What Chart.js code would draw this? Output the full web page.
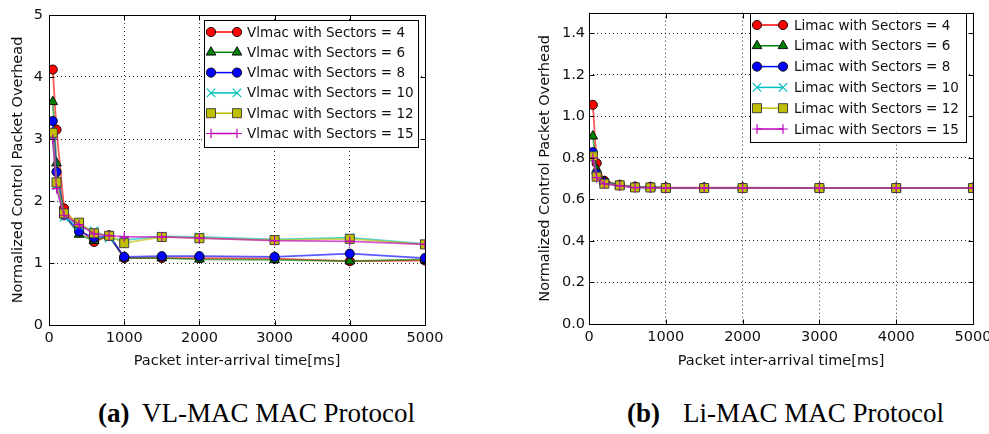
<!DOCTYPE html>
<html><head><meta charset="utf-8">
<script src="https://cdn.jsdelivr.net/npm/chart.js@4/dist/chart.umd.min.js"></script>
<style>
html,body{margin:0;padding:0;background:#fff;width:989px;height:434px;overflow:hidden;position:relative}
#c1{position:absolute;left:0;top:0}
#c2{position:absolute;left:500px;top:0}
.cap{position:absolute;top:400px;font-family:"Liberation Serif",serif;font-size:27px;line-height:27px;color:#000;white-space:nowrap}
</style></head>
<body>
<canvas id="c1" width="470" height="380"></canvas>
<canvas id="c2" width="500" height="380"></canvas>
<div class="cap" style="left:98px"><b>(a)</b></div>
<div class="cap" style="left:142px">VL-MAC MAC Protocol</div>
<div class="cap" style="left:627px"><b>(b)</b></div>
<div class="cap" style="left:683px">Li-MAC MAC Protocol</div>
<script>
// ---- data ----
const xValues = [50, 100, 200, 400, 600, 800, 1000, 1500, 2000, 3000, 4000, 5000];
const sectorCounts = [4, 6, 8, 10, 12, 15];

const vlmac4  = [4.12, 3.15, 1.88, 1.55, 1.34, 1.44, 1.08, 1.08, 1.08, 1.07, 1.03, 1.04];
const vlmac6  = [3.60, 2.61, 1.78, 1.46, 1.36, 1.44, 1.08, 1.08, 1.06, 1.05, 1.03, 1.06];
const vlmac8  = [3.29, 2.47, 1.77, 1.51, 1.41, 1.44, 1.10, 1.11, 1.11, 1.10, 1.15, 1.08];
const vlmac10 = [3.05, 2.25, 1.74, 1.60, 1.52, 1.40, 1.37, 1.43, 1.42, 1.38, 1.41, 1.31];
const vlmac12 = [3.10, 2.30, 1.80, 1.65, 1.48, 1.44, 1.32, 1.42, 1.40, 1.37, 1.39, 1.30];
const vlmac15 = [3.00, 2.20, 1.77, 1.62, 1.47, 1.44, 1.42, 1.42, 1.40, 1.36, 1.35, 1.30];

const limac4  = [1.056, 0.775, 0.690, 0.670, 0.661, 0.660, 0.657, 0.657, 0.657, 0.656, 0.656, 0.656];
const limac6  = [0.905, 0.745, 0.686, 0.668, 0.660, 0.659, 0.656, 0.656, 0.656, 0.655, 0.655, 0.655];
const limac8  = [0.828, 0.725, 0.682, 0.668, 0.659, 0.658, 0.656, 0.656, 0.656, 0.655, 0.655, 0.655];
const limac10 = [0.815, 0.715, 0.679, 0.668, 0.658, 0.658, 0.655, 0.655, 0.655, 0.655, 0.655, 0.655];
const limac12 = [0.808, 0.710, 0.676, 0.668, 0.658, 0.658, 0.655, 0.655, 0.655, 0.655, 0.655, 0.655];
const limac15 = [0.800, 0.705, 0.675, 0.666, 0.657, 0.657, 0.655, 0.655, 0.655, 0.655, 0.655, 0.655];

const vlTicksY = [0, 1, 2, 3, 4, 5];
const liTicksY = [0.0, 0.2, 0.4, 0.6, 0.8, 1.0, 1.2, 1.4];
const xTicks = [0, 1000, 2000, 3000, 4000, 5000];

// ---- styles ----
const solidColors = ['#ff0000', '#008000', '#0000ff', '#00bfbf', '#bfbf00', '#bf00bf'];
const lineColors  = ['rgba(255,0,0,0.65)', 'rgba(0,128,0,0.65)', 'rgba(0,0,255,0.65)', 'rgba(0,191,191,0.65)', 'rgba(191,191,0,0.65)', 'rgba(191,0,191,0.65)'];
const markers = ['circle', 'triangle', 'circle', 'crossRot', 'rect', 'cross'];
const markerRadius = [4.6, 5.6, 4.6, 6, 6.4, 4.8];
const markerEdge = ['#000', '#000', '#000', null, '#333', null];

function buildDatasets(prefix, series) {
  return series.map((vals, i) => ({
    label: prefix + ' with Sectors = ' + sectorCounts[i],
    data: xValues.map((x, j) => ({x: x, y: vals[j]})),
    borderColor: lineColors[i],
    legendColor: solidColors[i],
    borderWidth: 1.8,
    pointStyle: markers[i],
    pointRadius: markerRadius[i],
    pointBackgroundColor: solidColors[i],
    pointBorderColor: markerEdge[i] || solidColors[i],
    pointBorderWidth: markerEdge[i] ? 0.9 : 1.2,
    order: 5 - i,
    tension: 0
  }));
}

function drawMarker(ctx, ds, x, y) {
  ctx.save();
  ctx.fillStyle = ds.pointBackgroundColor;
  ctx.strokeStyle = ds.pointBorderColor;
  ctx.lineWidth = ds.pointBorderWidth;
  Chart.helpers.drawPoint(ctx, {pointStyle: ds.pointStyle, radius: ds.pointRadius, rotation: 0, borderWidth: ds.pointBorderWidth}, x, y);
  ctx.restore();
}

const insideLegend = {
  id: 'insideLegend',
  afterDraw(chart, args, o) {
    const {ctx, chartArea: a, scales} = chart;
    ctx.save();
    // frame
    ctx.strokeStyle = '#000';
    ctx.lineWidth = 1;
    const l = Math.round(a.left) + 0.5, t = Math.round(a.top) + 0.5;
    const r = Math.round(a.right) + 0.5, b = Math.round(a.bottom) + 0.5;
    ctx.strokeRect(l, t, r - l, b - t);
    // inward ticks
    const L = 5;
    ctx.beginPath();
    scales.x.ticks.forEach(tk => {
      const px = Math.round(scales.x.getPixelForValue(tk.value)) + 0.5;
      ctx.moveTo(px, b); ctx.lineTo(px, b - L);
      ctx.moveTo(px, t); ctx.lineTo(px, t + L);
    });
    scales.y.ticks.forEach(tk => {
      const py = Math.round(scales.y.getPixelForValue(tk.value)) + 0.5;
      ctx.moveTo(l, py); ctx.lineTo(l + L, py);
      ctx.moveTo(r, py); ctx.lineTo(r - L, py);
    });
    ctx.stroke();
    // legend box
    ctx.fillStyle = '#fff';
    ctx.fillRect(o.x, o.y, o.w, o.h);
    ctx.strokeStyle = '#000';
    ctx.strokeRect(o.x + 0.5, o.y + 0.5, o.w, o.h);
    ctx.font = '13.5px "DejaVu Sans"';
    ctx.textBaseline = 'middle';
    chart.data.datasets.forEach((ds, i) => {
      const cy = o.y + o.first + i * o.rowH;
      const x0 = o.x + o.lx0, x1 = o.x + o.lx1;
      ctx.strokeStyle = ds.legendColor;
      ctx.lineWidth = 1.5;
      ctx.beginPath(); ctx.moveTo(x0, cy); ctx.lineTo(x1, cy); ctx.stroke();
      drawMarker(ctx, ds, x0, cy);
      drawMarker(ctx, ds, x1, cy);
      ctx.fillStyle = '#111';
      ctx.fillText(ds.label, o.x + o.tx, cy + 1);
    });
    ctx.restore();
  }
};

function makeChart(id, datasets, yMax, yTicks, yDecimals, geom, legend) {
  return new Chart(document.getElementById(id), {
    type: 'line',
    data: {datasets: datasets},
    plugins: [insideLegend],
    options: {
      responsive: false,
      animation: false,
      events: [],
      layout: {padding: {left: 0, top: geom.top, right: geom.right, bottom: 0}},
      plugins: {legend: {display: false}, tooltip: {enabled: false}, insideLegend: legend},
      scales: {
        x: {
          type: 'linear', min: 0, max: 5000,
          afterBuildTicks: s => { s.ticks = xTicks.map(v => ({value: v})); },
          afterFit: s => { s.height = geom.xh; },
          ticks: {color: '#111', font: {family: 'DejaVu Sans', size: 14.5}, padding: 5, maxRotation: 0, callback: v => String(v)},
          grid: {color: 'rgba(0,0,0,0.85)', lineWidth: 1, drawTicks: false},
          border: {display: false, dash: [1, 3]},
          title: {display: true, text: 'Packet inter-arrival time[ms]', color: '#111', font: {family: 'DejaVu Sans', size: 14.5}, padding: {top: 4, bottom: 10}}
        },
        y: {
          type: 'linear', min: 0, max: yMax,
          afterBuildTicks: s => { s.ticks = yTicks.map(v => ({value: v})); },
          afterFit: s => { s.width = geom.yw; },
          ticks: {color: '#111', font: {family: 'DejaVu Sans', size: 14.5}, padding: geom.ypad, callback: v => Number(v).toFixed(yDecimals)},
          grid: {color: 'rgba(0,0,0,0.85)', lineWidth: 1, drawTicks: false},
          border: {display: false, dash: [1, 3]},
          title: {display: true, text: 'Normalized Control Packet Overhead', color: '#111', font: {family: 'DejaVu Sans', size: 14.5}, padding: {top: geom.ytp, bottom: 0}}
        }
      }
    }
  });
}

makeChart('c1', buildDatasets('Vlmac', [vlmac4, vlmac6, vlmac8, vlmac10, vlmac12, vlmac15]), 5, vlTicksY, 0,
  {top: 15, right: 45, xh: 55, yw: 49, ypad: 6, ytp: 10},
  {x: 204, y: 20, w: 214, h: 127, first: 12, rowH: 20.3, lx0: 7, lx1: 33, tx: 43});

makeChart('c2', buildDatasets('Limac', [limac4, limac6, limac8, limac10, limac12, limac15]), 1.5, liTicksY, 1,
  {top: 7, right: 27, xh: 56, yw: 89, ypad: 4, ytp: 37},
  {x: 250, y: 13, w: 216, h: 129, first: 12, rowH: 20.8, lx0: 7, lx1: 33, tx: 44});
</script>
</body></html>
